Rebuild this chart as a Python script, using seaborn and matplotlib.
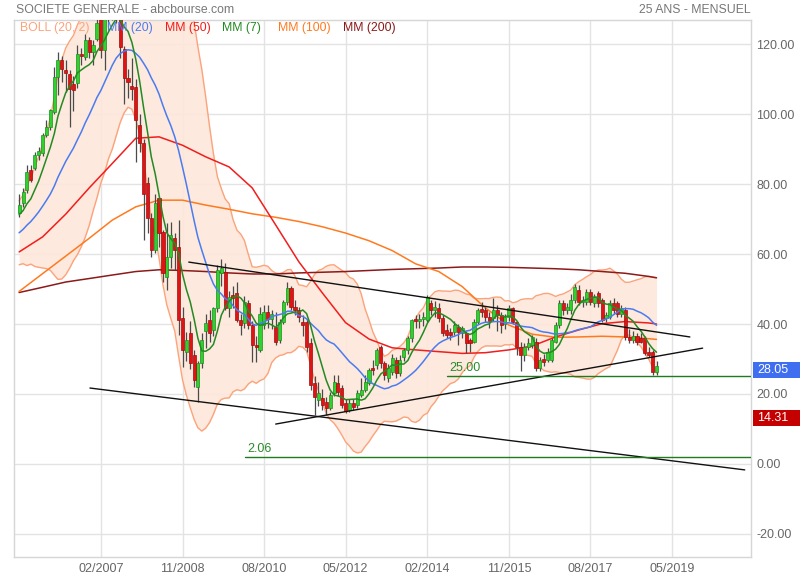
import numpy as np
import pandas as pd
import matplotlib
matplotlib.use("Agg")
import matplotlib.pyplot as plt
import matplotlib.dates as mdates
from matplotlib.patches import Rectangle
import seaborn as sns

# monthly candles, 05/2005 -> 01/2019
months = pd.date_range("2005-05-01", "2019-01-01", freq="MS")

opens = [71.6, 74.5, 78.3, 84.0, 84.5, 88.3, 88.8, 94.0, 96.4, 100.7,
         110.7, 115.6, 112.6, 111.6, 108.5, 108.8, 117.3, 116.4, 121.3, 117.8,
         121.6, 128.0, 118.3, 129.0, 132.5, 135.0, 130.5, 118.5, 110.2, 108.0,
         107.8, 96.9, 91.6, 80.2, 70.2, 61.1, 75.9, 66.4, 53.5, 59.2,
         64.5, 62.1, 41.6, 32.1, 37.3, 31.1, 22.1, 28.8, 38.1, 41.1,
         38.3, 44.5, 54.5, 54.9, 44.5, 48.3, 48.8, 41.1, 40.2, 45.9,
         39.7, 34.0, 32.6, 39.7, 43.5, 41.5, 39.2, 35.4, 40.7, 46.4,
         50.2, 45.0, 44.0, 40.7, 40.7, 34.5, 23.0, 18.3, 18.8, 17.8,
         15.9, 20.2, 23.0, 21.6, 17.3, 15.4, 17.3, 16.9, 19.7, 21.1,
         23.0, 27.3, 28.3, 33.5, 28.8, 24.5, 26.4, 29.7, 26.0, 30.7,
         32.6, 35.9, 41.3, 40.9, 41.4, 41.1, 45.9, 44.0, 44.5, 41.6,
         38.3, 37.8, 37.8, 39.2, 37.5, 37.3, 35.4, 35.0, 40.7, 44.2,
         44.0, 42.1, 41.6, 44.0, 42.6, 39.9, 42.0, 44.5, 40.7, 33.5,
         31.0, 33.5, 34.0, 34.9, 27.3, 30.0, 29.7, 29.7, 35.0, 39.7,
         45.9, 44.0, 44.0, 46.9, 49.7, 46.4, 46.4, 49.1, 46.0, 48.8,
         46.9, 41.6, 42.1, 45.9, 45.9, 43.0, 44.0, 36.4, 35.4, 36.5,
         35.9, 35.9, 32.1, 32.1, 26.4]
highs = [77.3, 78.8, 85.4, 85.4, 89.2, 90.5, 94.5, 98.3, 101.6, 113.5,
         117.8, 116.5, 115.4, 112.5, 111.0, 119.7, 118.8, 123.0, 122.0, 121.1,
         127.5, 131.0, 132.0, 134.0, 138.0, 137.0, 132.0, 119.5, 113.0, 116.0,
         110.0, 100.0, 93.0, 82.0, 71.6, 77.3, 76.4, 67.0, 68.8, 69.2,
         66.0, 69.7, 45.0, 37.8, 41.0, 32.5, 29.5, 37.5, 43.0, 44.0,
         45.0, 56.9, 58.5, 57.5, 49.5, 51.0, 52.1, 43.0, 48.0, 47.0,
         41.0, 36.5, 45.0, 45.5, 45.5, 44.0, 43.5, 41.5, 47.0, 52.1,
         51.0, 47.0, 45.0, 42.5, 41.5, 36.0, 25.0, 23.5, 21.5, 19.0,
         20.5, 25.5, 25.5, 22.5, 18.5, 18.5, 18.5, 21.0, 24.5, 25.5,
         27.5, 29.8, 33.0, 34.0, 29.5, 28.5, 31.5, 30.5, 31.0, 33.0,
         36.5, 41.5, 42.5, 43.0, 43.5, 48.3, 47.0, 46.5, 46.0, 42.5,
         40.0, 39.0, 41.0, 40.0, 39.5, 38.0, 36.0, 41.5, 44.5, 46.4,
         45.0, 43.5, 47.3, 45.5, 43.5, 43.0, 45.5, 45.0, 41.0, 35.0,
         34.5, 36.0, 37.0, 36.0, 30.5, 31.5, 33.0, 36.0, 40.5, 47.0,
         47.0, 46.0, 48.5, 51.3, 51.1, 48.0, 50.0, 50.0, 48.5, 49.5,
         47.5, 43.5, 47.0, 47.5, 46.5, 45.5, 45.0, 38.5, 38.0, 37.5,
         37.5, 36.5, 33.5, 32.5, 29.5]
lows = [70.7, 73.5, 77.5, 80.5, 84.0, 87.0, 88.0, 93.5, 95.5, 100.0,
        105.4, 109.2, 106.4, 96.4, 101.0, 107.5, 114.0, 115.5, 115.9, 114.0,
        121.0, 116.0, 112.6, 125.0, 127.0, 126.0, 116.0, 103.0, 104.5, 104.0,
        86.4, 89.2, 64.0, 66.0, 59.2, 60.2, 62.0, 52.1, 49.7, 56.0,
        55.5, 37.0, 27.8, 29.5, 27.0, 22.0, 17.8, 27.5, 33.0, 35.0,
        36.5, 43.5, 51.0, 44.0, 42.0, 44.5, 40.5, 37.0, 39.0, 38.5,
        29.2, 29.0, 32.0, 38.5, 39.0, 38.5, 34.0, 34.5, 40.0, 45.5,
        44.0, 42.5, 40.5, 36.5, 32.0, 21.0, 14.0, 16.5, 15.5, 14.0,
        15.5, 19.5, 19.5, 16.0, 14.5, 14.8, 15.5, 16.0, 19.0, 20.5,
        22.5, 25.5, 27.0, 27.5, 24.0, 23.5, 25.5, 24.5, 25.0, 29.5,
        31.5, 35.0, 39.0, 39.0, 39.5, 40.5, 42.5, 42.0, 40.5, 36.5,
        36.0, 35.5, 37.0, 34.0, 36.0, 31.6, 32.0, 34.5, 40.0, 42.0,
        40.5, 39.0, 41.0, 38.0, 37.5, 38.5, 41.0, 40.0, 31.0, 26.5,
        29.5, 32.5, 33.0, 26.5, 26.5, 28.0, 29.0, 29.0, 34.5, 39.0,
        42.5, 43.0, 43.0, 46.0, 45.5, 45.0, 45.5, 45.5, 45.0, 45.0,
        40.5, 40.5, 41.5, 43.0, 42.0, 42.0, 35.5, 34.5, 34.5, 34.0,
        34.5, 31.0, 30.5, 25.5, 25.5]
closes = [74.0, 77.8, 83.5, 81.2, 88.3, 89.5, 94.0, 96.4, 101.1, 110.7,
          115.6, 113.0, 111.8, 107.3, 107.0, 117.3, 116.6, 121.1, 117.8, 119.7,
          125.9, 118.3, 129.0, 132.5, 135.0, 130.5, 119.2, 110.2, 109.2, 107.3,
          98.3, 91.6, 77.3, 70.2, 61.1, 74.5, 65.9, 54.5, 59.2, 65.4,
          61.1, 41.1, 32.6, 35.5, 28.8, 24.0, 28.8, 35.5, 40.2, 37.3,
          44.5, 55.4, 56.0, 44.5, 47.8, 47.3, 41.1, 39.7, 46.4, 39.7,
          34.0, 33.5, 43.0, 43.5, 41.5, 43.0, 35.0, 40.7, 46.4, 50.2,
          45.0, 44.0, 42.1, 39.7, 33.5, 22.6, 19.2, 20.2, 16.9, 15.9,
          19.7, 23.5, 20.7, 16.9, 15.0, 17.3, 16.4, 20.2, 21.1, 23.5,
          26.9, 26.9, 32.6, 28.8, 25.4, 27.3, 30.2, 25.9, 29.7, 32.6,
          35.9, 41.1, 40.9, 41.4, 41.9, 47.6, 44.0, 45.0, 41.6, 37.3,
          36.9, 36.9, 39.7, 37.8, 38.8, 34.5, 34.5, 40.7, 44.0, 43.5,
          42.1, 41.0, 44.0, 42.6, 39.7, 42.0, 44.5, 40.7, 33.5, 31.0,
          33.5, 34.5, 36.4, 27.3, 29.7, 29.0, 32.1, 35.4, 39.7, 45.9,
          44.0, 45.0, 46.9, 50.7, 46.4, 47.0, 49.1, 46.4, 47.8, 45.9,
          41.1, 42.6, 45.9, 44.0, 43.0, 44.5, 36.4, 35.4, 36.5, 35.0,
          35.0, 31.6, 31.0, 26.4, 28.05]
# 19 months before the window (only feed MM7 / MM20 / BOLL start values)
prior_closes = [58.5, 59.5, 60.0, 61.5, 62.0, 61.0, 63.0, 64.5, 65.0, 66.0,
                67.5, 66.5, 68.0, 69.5, 70.0, 71.0, 70.5, 72.0, 71.6]

# long averages (need 25 years of history)
ma_dates = pd.to_datetime([
    "2005-05-01", "2005-11-01", "2006-05-01", "2006-11-01", "2007-05-01",
    "2007-11-01", "2008-05-01", "2008-11-01", "2009-05-01", "2009-11-01",
    "2010-05-01", "2010-11-01", "2011-05-01", "2011-11-01", "2012-05-01",
    "2012-11-01", "2013-05-01", "2013-11-01", "2014-05-01", "2014-11-01",
    "2015-05-01", "2015-11-01", "2016-05-01", "2016-11-01", "2017-05-01",
    "2017-11-01", "2018-05-01", "2018-11-01", "2019-01-01"])
mm50 = [60.6, 64.9, 71.4, 78.9, 85.9, 93.1, 93.5, 91.1, 87.8, 84.9,
        78.9, 68.3, 57.8, 48.9, 40.4, 35.7, 33.2, 32.6, 32.1, 31.6,
        31.8, 32.6, 33.7, 36.3, 38.3, 40.1, 40.7, 40.3, 40.0]
mm100 = [49.3, 54.4, 59.4, 64.5, 69.7, 73.5, 75.4, 75.4, 74.0, 72.8,
         71.5, 70.5, 69.3, 67.8, 66.0, 63.8, 61.0, 57.2, 55.0, 50.7,
         44.6, 39.7, 37.1, 36.2, 36.3, 36.5, 36.3, 35.8, 35.6]
mm200 = [49.0, 50.5, 52.0, 53.0, 54.0, 55.0, 55.5, 55.3, 55.0, 54.6,
         54.3, 54.3, 54.6, 54.8, 55.0, 55.3, 55.6, 55.8, 56.0, 56.3,
         56.3, 56.2, 56.0, 55.8, 55.5, 55.0, 54.5, 53.6, 53.2]

# hand-drawn trend lines (start date, start price, end date, end price)
trend_lines = [("2008-12-20", 57.7, "2019-09-19", 36.3),
               ("2010-11-01", 11.4, "2019-12-28", 33.1),
               ("2006-11-07", 21.7, "2020-11-22", -1.7)]
levels = [(25.00, "2014-07-01"), (2.06, "2010-03-03")]
last_price = 28.05
red_mark = 14.31

x_ticks = pd.to_datetime(["2007-02-01", "2008-11-01", "2010-08-01", "2012-05-01",
                          "2014-02-01", "2015-11-01", "2017-08-01", "2019-05-01"])
y_ticks = [-20, 0, 20, 40, 60, 80, 100, 120]

# ---- indicators
all_close = pd.Series(prior_closes + closes)
mm7 = all_close.rolling(7, min_periods=1).mean().iloc[len(prior_closes):].values
mm20 = all_close.rolling(20, min_periods=1).mean().iloc[len(prior_closes):].values
sd20 = all_close.rolling(20, min_periods=1).std(ddof=0).iloc[len(prior_closes):].values
boll_up = mm20 + 2 * sd20
boll_dn = mm20 - 2 * sd20

sns.set_style("white")
plt.rcParams['font.family'] = ['Liberation Sans', 'DejaVu Sans']
narrow = ['Liberation Sans Narrow', 'Liberation Sans', 'DejaVu Sans']

fig = plt.figure(figsize=(8, 5.8), dpi=100)
ax = fig.add_axes([14 / 800, 1 - 557 / 580, 737 / 800, 537 / 580])

# grid
for xt in x_ticks:
    ax.axvline(xt, color="#e3e3e3", lw=1, zorder=0)
for yt in y_ticks:
    ax.axhline(yt, color="#e3e3e3", lw=1, zorder=0)

# bollinger band
ax.fill_between(months, boll_dn, boll_up, color="#fde7da", alpha=0.9, lw=0, zorder=1)
sns.lineplot(x=months, y=boll_up, ax=ax, color="#fca37a", lw=1, zorder=2)
sns.lineplot(x=months, y=boll_dn, ax=ax, color="#fca37a", lw=1, zorder=2)

# long averages
sns.lineplot(x=ma_dates, y=mm200, ax=ax, color="#8b1a1a", lw=1.1, zorder=3)
sns.lineplot(x=ma_dates, y=mm100, ax=ax, color="#ff7a1f", lw=1.1, zorder=3)
sns.lineplot(x=ma_dates, y=mm50, ax=ax, color="#f21d1d", lw=1.1, zorder=3)

# candles
o = np.array(opens)
c = np.array(closes)
up = c >= o
ax.vlines(months, lows, highs, color="#4a4a4a", lw=0.9, zorder=4)
body = np.maximum(np.abs(c - o), 0.4)
ax.bar(months[up], body[up], bottom=np.minimum(o, c)[up], width=24,
       color="#2ed12e", edgecolor="#1f8f1f", lw=0.5, zorder=5)
ax.bar(months[~up], body[~up], bottom=np.minimum(o, c)[~up], width=24,
       color="#e01414", edgecolor="#a00d0d", lw=0.5, zorder=5)

# short averages
sns.lineplot(x=months, y=mm20, ax=ax, color="#4a7cf0", lw=1.1, zorder=6)
sns.lineplot(x=months, y=mm7, ax=ax, color="#238a23", lw=1.1, zorder=6)

# trend lines and levels
for d0, p0, d1, p1 in trend_lines:
    ax.plot(pd.to_datetime([d0, d1]), [p0, p1], color="#111111", lw=1, zorder=7)
for lvl, start in levels:
    ax.plot([pd.Timestamp(start), pd.Timestamp("2021-01-10")], [lvl, lvl],
            color="#1e7b1e", lw=1, zorder=7)
    ax.text(pd.Timestamp(start) + pd.Timedelta(days=20), lvl + 0.6, f"{lvl:.2f}",
            color="#2a8a2a", fontsize=9, va="bottom", ha="left", zorder=8)

ax.set_xlim(pd.Timestamp("2005-03-22"), pd.Timestamp("2021-01-10"))
ax.set_ylim(-26.6, 126.9)

ax.set_xticks(x_ticks)
ax.xaxis.set_major_formatter(mdates.DateFormatter("%m/%Y"))
ax.set_yticks(y_ticks)
ax.set_yticklabels([f"{v:.2f}" for v in y_ticks])
ax.yaxis.tick_right()
ax.tick_params(axis="both", length=0, labelsize=9, colors="#666666")
ax.tick_params(axis="y", pad=4)
ax.tick_params(axis="x", pad=4)
for lab in ax.get_xticklabels() + ax.get_yticklabels():
    lab.set_family(narrow)
ax.set_xlabel("")
ax.set_ylabel("")
for sp in ax.spines.values():
    sp.set_color("#d6d6d6")
    sp.set_linewidth(1)

# price flags on the right axis (flag sits a few pixels under its value)
ytr = ax.get_yaxis_transform()
for val, col in [(last_price, "#3f6ff0"), (red_mark, "#c40000")]:
    ax.add_patch(Rectangle((1.003, val - 3.45), 0.07, 4.6, transform=ytr,
                           fc=col, ec="none", clip_on=False, zorder=9))
    ax.text(1.008, val - 1.15, f"{val:.2f}", transform=ytr, color="white",
            fontsize=9, va="center", ha="left", family=narrow, zorder=10)

# legend texts
legend = [("BOLL (20, 2)", "#fca37a", 20), ("MM (20)", "#4a7cf0", 107),
          ("MM (50)", "#f21d1d", 165), ("MM (7)", "#238a23", 222),
          ("MM (100)", "#ff7a1f", 278), ("MM (200)", "#8b1a1a", 343)]
for txt, col, px in legend:
    fig.text(px / 800, 1 - 28 / 580, txt, color=col, fontsize=8.8, va="center", ha="left")

fig.text(16 / 800, 1 - 10 / 580, "SOCIETE GENERALE - abcbourse.com", color="#777777",
         fontsize=8.8, va="center", ha="left")
fig.text(751 / 800, 1 - 10 / 580, "25 ANS - MENSUEL", color="#777777",
         fontsize=8.8, va="center", ha="right")

fig.savefig("out.png", dpi=100)
